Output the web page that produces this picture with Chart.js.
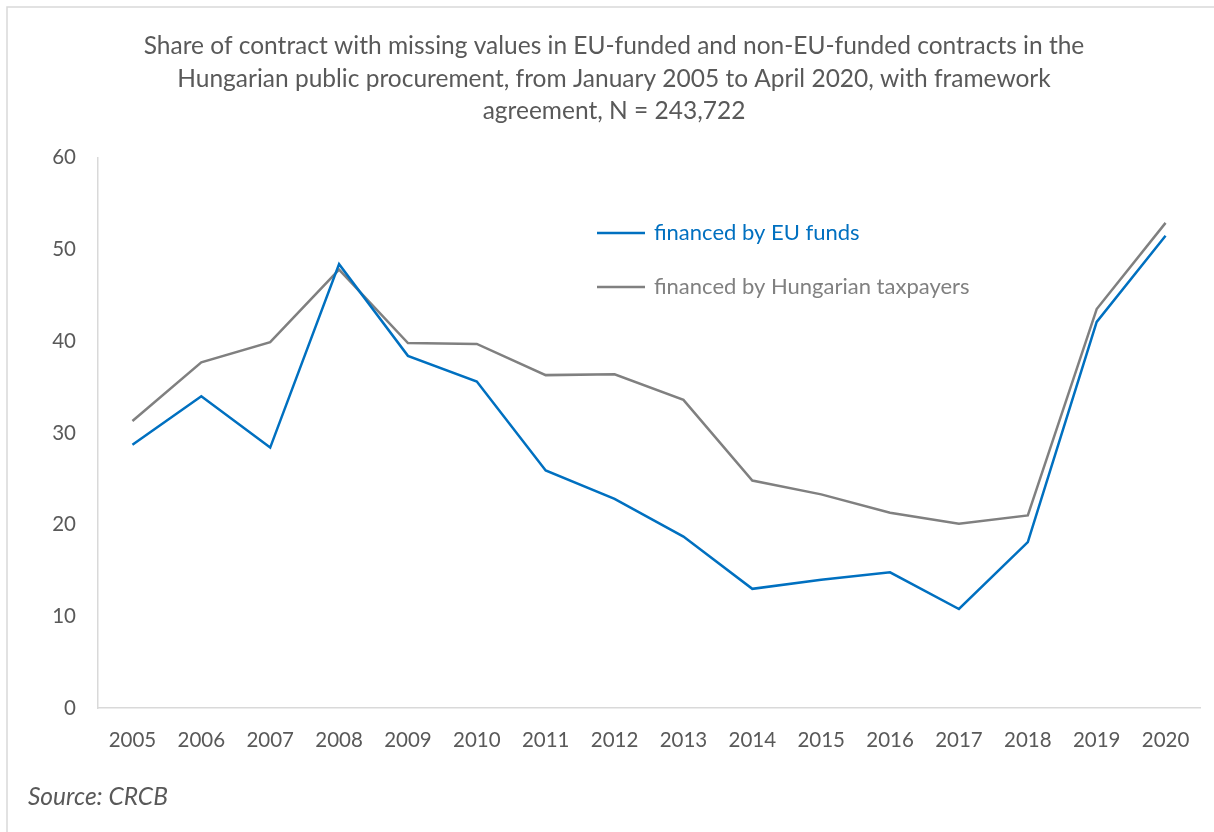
<!DOCTYPE html>
<html>
<head>
<meta charset="utf-8">
<script src="https://cdn.jsdelivr.net/npm/chart.js@4.4.1/dist/chart.umd.min.js"></script>
<style>
  html, body { margin: 0; padding: 0; background: #ffffff; }
  #wrap { width: 1214px; height: 832px; position: relative; }
</style>
</head>
<body>
<div id="wrap"><canvas id="c" width="1214" height="832"></canvas></div>
<script>
const years = ['2005','2006','2007','2008','2009','2010','2011','2012','2013','2014','2015','2016','2017','2018','2019','2020'];
const euFunded = [28.7, 34.0, 28.4, 48.4, 38.4, 35.6, 25.9, 22.8, 18.7, 13.0, 14.0, 14.8, 10.8, 18.1, 42.1, 51.5];
const hungarianTaxpayers = [31.3, 37.7, 39.9, 47.8, 39.8, 39.7, 36.3, 36.4, 33.6, 24.8, 23.3, 21.3, 20.1, 21.0, 43.5, 52.9];
const yTicks = [0, 10, 20, 30, 40, 50, 60];
const titleLines = [
  'Share of contract with missing values in EU-funded and non-EU-funded contracts in the',
  'Hungarian public procurement, from January 2005 to April 2020, with framework',
  'agreement, N = 243,722'
];
const sourceText = 'Source: CRCB';

const FONT = 'Lato, Carlito, "Open Sans", sans-serif';
const TEXT = '#595959';

const framePlugin = {
  id: 'frame',
  beforeDraw(chart) {
    const ctx = chart.ctx;
    ctx.save();
    ctx.fillStyle = '#ffffff';
    ctx.fillRect(0, 0, chart.width, chart.height);
    ctx.strokeStyle = '#d9d9d9';
    ctx.lineWidth = 1.5;
    ctx.beginPath();
    ctx.moveTo(7, chart.height);
    ctx.lineTo(7, 7);
    ctx.lineTo(chart.width, 7);
    ctx.stroke();
    ctx.restore();
  }
};

const innerLegend = {
  id: 'innerLegend',
  afterDatasetsDraw(chart) {
    const ctx = chart.ctx;
    ctx.save();
    const x0 = 597, x1 = 645, tx = 654;
    const ys = [233, 287];
    chart.data.datasets.forEach((ds, i) => {
      const y = ys[i];
      ctx.strokeStyle = ds.borderColor;
      ctx.lineWidth = ds.borderWidth;
      ctx.beginPath();
      ctx.moveTo(x0, y);
      ctx.lineTo(x1, y);
      ctx.stroke();
      ctx.fillStyle = ds.borderColor;
      ctx.font = '22px ' + FONT;
      ctx.textBaseline = 'middle';
      ctx.textAlign = 'left';
      ctx.fillText(ds.label, tx, y);
    });
    ctx.restore();
  }
};

new Chart(document.getElementById('c'), {
  type: 'line',
  data: {
    labels: years,
    datasets: [
      {
        label: 'financed by EU funds',
        data: euFunded,
        borderColor: '#0070C0',
        backgroundColor: '#0070C0',
        borderWidth: 2.5,
        pointRadius: 0,
        tension: 0,
        fill: false
      },
      {
        label: 'financed by Hungarian taxpayers',
        data: hungarianTaxpayers,
        borderColor: '#808080',
        backgroundColor: '#808080',
        borderWidth: 2.5,
        pointRadius: 0,
        tension: 0,
        fill: false
      }
    ]
  },
  options: {
    responsive: false,
    animation: false,
    layout: { padding: { left: 28, right: 14, top: 0, bottom: 0 } },
    plugins: {
      legend: { display: false },
      tooltip: { enabled: false },
      title: {
        display: true,
        text: titleLines,
        color: TEXT,
        font: { family: FONT, size: 24.5, weight: 'normal', lineHeight: 1.33 },
        padding: { top: 30, bottom: 30 }
      },
      subtitle: {
        display: true,
        text: sourceText,
        position: 'bottom',
        align: 'start',
        color: TEXT,
        font: { family: FONT, size: 24.5, style: 'italic', weight: 'normal', lineHeight: 1.1 },
        padding: { top: 0, bottom: 21 }
      }
    },
    scales: {
      x: {
        type: 'category',
        offset: true,
        grid: { display: false, drawTicks: false },
        border: { color: '#d9d9d9', width: 1.5 },
        ticks: { color: TEXT, font: { family: FONT, size: 20.5 }, padding: 20, maxRotation: 0, autoSkip: false },
        afterFit(scale) { scale.height = 76; }
      },
      y: {
        min: 0,
        max: 60,
        afterBuildTicks(scale) { scale.ticks = yTicks.map(v => ({ value: v })); },
        grid: { display: false, drawTicks: false },
        border: { color: '#d9d9d9', width: 1.5 },
        ticks: { color: TEXT, font: { family: FONT, size: 20.5 }, padding: 22 },
        afterFit(scale) { scale.width = 70; }
      }
    }
  },
  plugins: [framePlugin, innerLegend]
});
</script>
</body>
</html>
